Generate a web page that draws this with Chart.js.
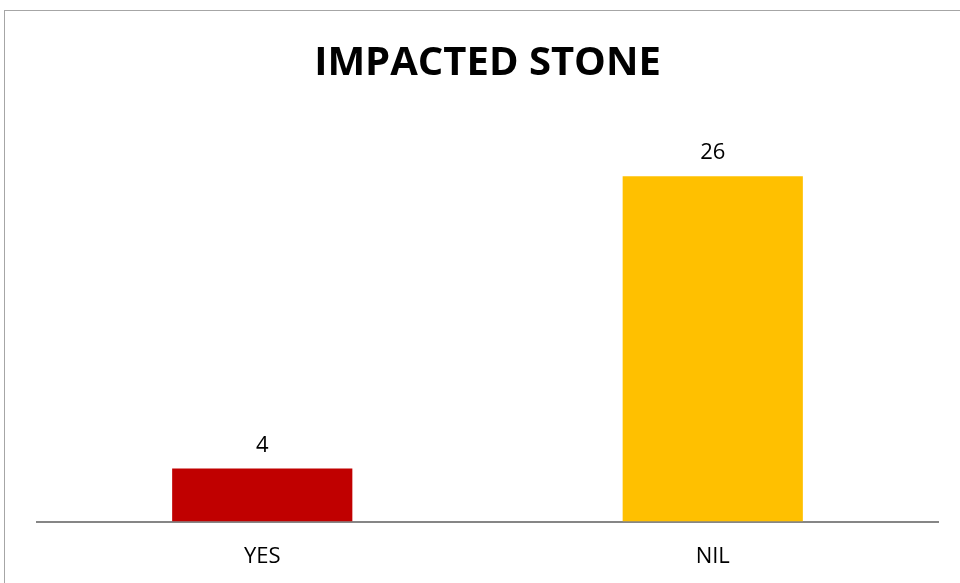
<!DOCTYPE html>
<html>
<head>
<meta charset="utf-8">
<script src="https://cdn.jsdelivr.net/npm/chart.js@4.4.0/dist/chart.umd.min.js"></script>
<style>
	html, body { margin: 0; padding: 0; background: #fff; overflow: hidden; }
	#wrap { position: absolute; left: 0; top: 0; width: 960px; height: 583px; overflow: hidden; }
	#frame { position: absolute; left: 4px; top: 10px; width: 960px; height: 600px; border: 1px solid #a6a6a6; box-sizing: border-box; pointer-events: none; }
</style>
</head>
<body>
<div id="wrap">
	<canvas id="stoneChart" width="960" height="605"></canvas>
	<div id="frame"></div>
</div>
<script>
const categories = ['YES', 'NIL']
const counts = [4, 26]
const barColors = ['#C00000', '#FFC000']

// draws the count above each bar
const valueLabels = {
	id: 'valueLabels',
	afterDatasetsDraw(chart) {
		const ctx = chart.ctx
		const meta = chart.getDatasetMeta(0)
		ctx.save()
		ctx.font = '22px "Open Sans"'
		ctx.fillStyle = '#000'
		ctx.textAlign = 'center'
		ctx.textBaseline = 'bottom'
		meta.data.forEach((bar, i) => {
			ctx.fillText(String(counts[i]), bar.x, bar.y - 12)
		})
		ctx.restore()
	}
}

document.addEventListener("DOMContentLoaded", function () {
	const ctx = document.getElementById('stoneChart')

	new Chart(ctx, {
		type: 'bar',
		data: {
			labels: categories,
			datasets: [{
				data: counts,
				backgroundColor: barColors,
				borderWidth: 0,
				categoryPercentage: 1,
				barPercentage: 0.4
			}]
		},
		options: {
			responsive: false,
			animation: false,
			layout: {
				padding: { left: 37, right: 22, top: 0, bottom: 13 }
			},
			plugins: {
				legend: { display: false },
				tooltip: { enabled: false },
				title: {
					display: true,
					text: 'IMPACTED STONE',
					color: '#000',
					font: { family: '"Open Sans"', size: 40, weight: 'bold', lineHeight: 1.2 },
					padding: { top: 40, bottom: 35 }
				}
			},
			scales: {
				x: {
					grid: { display: true, drawOnChartArea: false, drawTicks: false },
					border: { display: true, color: '#868686', width: 2 },
					ticks: {
						color: '#000',
						padding: 22,
						font: { family: '"Open Sans"', size: 22 }
					}
				},
				y: {
					display: false,
					min: 0,
					max: 30
				}
			}
		},
		plugins: [valueLabels]
	})
})
</script>
</body>
</html>
